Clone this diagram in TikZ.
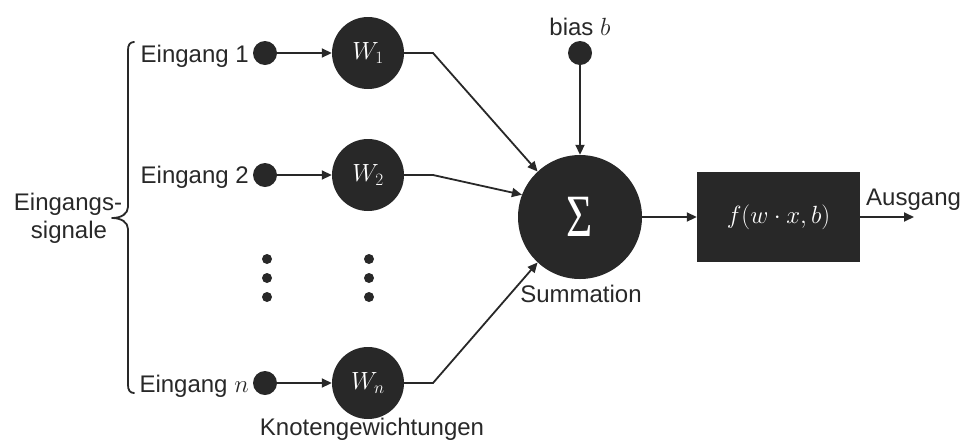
\documentclass[tikz,border=0pt]{standalone}
\usepackage{fontspec}
\usepackage{graphicx}
\setmainfont{Liberation Sans}
\newfontfamily\greekserif{Liberation Serif}
\usetikzlibrary{arrows.meta}
\definecolor{ink}{HTML}{282828}

\begin{document}
\begin{tikzpicture}[x=1pt,y=-1pt,
  lbl/.style={font=\fontsize{24}{28}\selectfont, text=ink, inner sep=0pt},
  indot/.style={circle, fill=ink, draw=none, minimum size=24pt, inner sep=0pt},
  smalldot/.style={circle, fill=ink, draw=none, minimum size=10pt, inner sep=0pt},
  weight/.style={circle, fill=ink, draw=none, minimum size=72pt, inner sep=0pt,
    text=white, font=\fontsize{24}{28}\selectfont},
  sumnode/.style={circle, fill=ink, draw=none, minimum size=124pt, inner sep=0pt,
    text=white, font=\greekserif\fontsize{60}{64}\selectfont},
  actbox/.style={rectangle, fill=ink, draw=none, minimum width=163pt,
    minimum height=90pt, inner sep=0pt, text=white, font=\fontsize{24}{28}\selectfont},
  wire/.style={draw=ink, line width=1.8pt, -{Triangle[length=10pt,width=9pt]}},
  bracket/.style={draw=ink, line width=1.8pt, line cap=round, line join=round}]

\useasboundingbox (0,0) rectangle (963,440);

% inputs
\node[indot] (in1) at (265,53) {};
\node[indot] (in2) at (265,175) {};
\node[indot] (inn) at (265,383) {};

% weights
\node[weight] (w1) at (368,53) {$W_1$};
\node[weight] (w2) at (368,175) {$W_2$};
\node[weight] (wn) at (368,383) {$W_n$};

% ellipsis dots between row 2 and row n
\foreach \yy/\k in {259/a,278/b,297/c}{
  \node[smalldot] (da\k) at (267,\yy) {};
  \node[smalldot] (db\k) at (369,\yy) {};
}

% summation, bias and activation
\node[sumnode] (sum) at (580,217) {\raisebox{-3pt}{\scalebox{0.75}[1]{Σ}}};
\node[indot] (bias) at (580,53) {};
\node[actbox] (act) at (778.5,217) {$f(w\cdot x,b)$};
\coordinate (out) at (914,217);

% labels
\node[lbl, anchor=base east] (l1) at (249,62) {Eingang 1};
\node[lbl, anchor=base east] (l2) at (249,183) {Eingang 2};
\node[lbl, anchor=base east] (ln) at (249,392) {Eingang $n$};
\node[lbl, anchor=base] (sig1) at (68,210) {Eingangs-};
\node[lbl, anchor=base] (sig2) at (69,238) {signale};
\node[lbl, anchor=base] (knot) at (372,435) {Knotengewichtungen};
\node[lbl, anchor=base] (summ) at (581,302) {Summation};
\node[lbl, anchor=base] (biasl) at (580,35) {bias $b$};
\node[lbl, anchor=base west] (ausg) at (866,205) {Ausgang};

% grouping bracket
\draw[bracket] (134,42) .. controls (130,42) and (128,45) .. (128,50)
  -- (128,207) .. controls (128,214) and (121,218) .. (112,218)
  .. controls (121,218) and (128,222) .. (128,229)
  -- (128,385) .. controls (128,390) and (130,393) .. (134,393);

% input connections
\draw[wire] (in1) -- (w1);
\draw[wire] (in2) -- (w2);
\draw[wire] (inn) -- (wn);

% weighted signals into the sum
\coordinate (k1) at (433,53);
\coordinate (k2) at (433,175);
\coordinate (kn) at (433,383);
\draw[wire] (w1.east) -- (k1) -- (sum.133);
\draw[wire] (w2.east) -- (k2) -- (sum.159);
\draw[wire] (wn.east) -- (kn) -- (sum.227);
\draw[wire] (bias) -- (sum);

% output path
\draw[wire] (sum) -- (act);
\draw[wire] (act) -- (out);

\end{tikzpicture}
\end{document}
